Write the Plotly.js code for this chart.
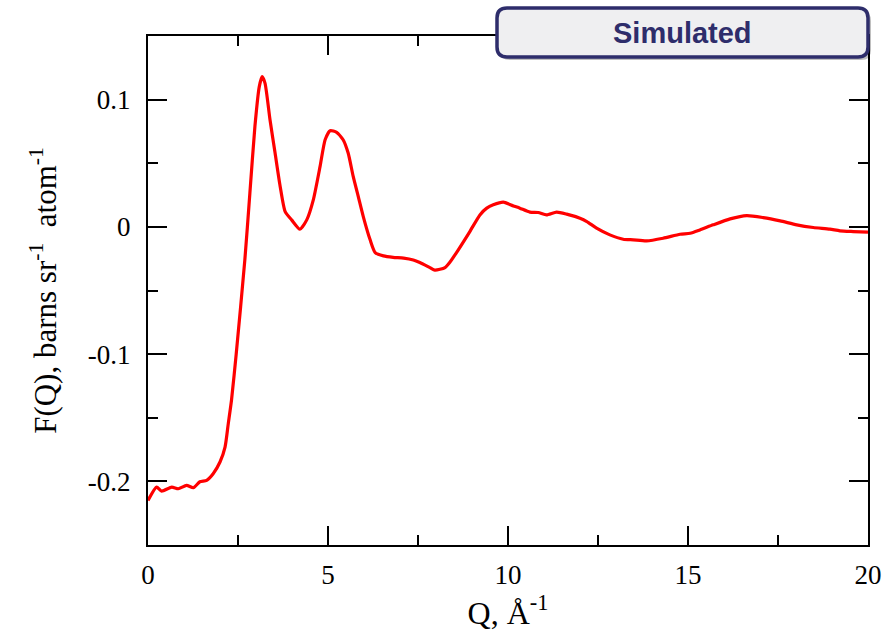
<!DOCTYPE html>
<html>
<head>
<meta charset="utf-8">
<script src="https://cdn.plot.ly/plotly-3.0.1.min.js"></script>
<style>html,body{margin:0;padding:0;background:#fff;}#chart{width:894px;height:643px;}</style>
</head>
<body>
<div id="chart"></div>
<script>
const qValues = [0, 0.24, 0.38, 0.66, 0.84, 1.07, 1.26, 1.44, 1.63, 1.81, 2.0, 2.14, 2.23, 2.32, 2.45, 2.69, 2.83, 2.97, 3.09, 3.17, 3.25, 3.39, 3.53, 3.67, 3.81, 3.99, 4.22, 4.41, 4.59, 4.78, 4.92, 5.06, 5.24, 5.42, 5.56, 5.70, 5.84, 5.98, 6.17, 6.31, 6.54, 6.81, 7.1, 7.37, 7.55, 7.83, 7.97, 8.25, 8.39, 8.62, 8.94, 9.22, 9.41, 9.59, 9.87, 10.15, 10.33, 10.61, 10.84, 11.07, 11.35, 11.63, 12.0, 12.19, 12.46, 12.83, 13.2, 13.48, 13.85, 14.31, 14.78, 15.06, 15.33, 15.7, 16.17, 16.63, 17.09, 17.56, 18.02, 18.48, 18.94, 19.22, 19.59, 20.0];
const fValues = [-0.215, -0.2045, -0.2076, -0.2045, -0.2058, -0.2031, -0.205, -0.2003, -0.1992, -0.194, -0.1848, -0.173, -0.1546, -0.136, -0.10, -0.026, 0.0265, 0.079, 0.110, 0.118, 0.113, 0.084, 0.058, 0.032, 0.012, 0.0055, -0.0018, 0.0055, 0.021, 0.0475, 0.0685, 0.0756, 0.0743, 0.0685, 0.058, 0.0396, 0.0239, 0.0081, -0.0102, -0.0202, -0.0228, -0.0239, -0.0245, -0.026, -0.028, -0.032, -0.034, -0.032, -0.0276, -0.018, -0.0037, 0.0094, 0.0147, 0.0173, 0.0194, 0.0165, 0.0147, 0.0116, 0.0113, 0.0094, 0.0116, 0.010, 0.0068, 0.0042, -0.001, -0.0063, -0.0097, -0.0102, -0.011, -0.0089, -0.0058, -0.005, -0.0024, 0.0016, 0.0063, 0.0089, 0.0073, 0.0047, 0.0016, -0.0005, -0.0018, -0.0031, -0.0037, -0.0042];
const xTickVals = [0, 5, 10, 15, 20];
const xTickText = ['0', '5', '10', '15', '20'];
const yTickVals = [-0.2, -0.1, 0, 0.1];
const yTickText = ['-0.2', '-0.1', '0', '0.1'];
const labelText = 'Simulated';

const W = 720, H = 509;
function px(x) { return (x - 148) / W; }
function py(y) { return (545 - y) / H; }
function roundRect(x0, y0, x1, y1, r) {
  const rx = r / W, ry = r / H;
  const L = px(x0), R = px(x1), T = py(y0), B = py(y1);
  return `M${L + rx},${T} L${R - rx},${T} Q${R},${T} ${R},${T - ry} L${R},${B + ry} Q${R},${B} ${R - rx},${B} L${L + rx},${B} Q${L},${B} ${L},${B + ry} L${L},${T - ry} Q${L},${T} ${L + rx},${T} Z`;
}

const serif = 'Liberation Serif, Times New Roman, serif';

const trace = {
  x: qValues, y: fValues, type: 'scatter', mode: 'lines',
  line: {color: '#ff0000', width: 3.2, shape: 'spline', smoothing: 0.6},
  hoverinfo: 'skip', showlegend: false
};

const axisCommon = {
  showline: true, linecolor: '#000', linewidth: 2, mirror: 'allticks',
  ticks: 'inside', ticklen: 19, tickwidth: 2, tickcolor: '#000',
  showgrid: false, zeroline: false,
  tickfont: {family: serif, size: 27, color: '#000'}
};

const layout = {
  width: 894, height: 643,
  margin: {l: 148, r: 26, t: 36, b: 98},
  paper_bgcolor: '#fff', plot_bgcolor: '#fff',
  xaxis: Object.assign({}, axisCommon, {
    range: [0, 20], tickmode: 'array', tickvals: xTickVals, ticktext: xTickText,
    ticklabelstandoff: 5,
    minor: {dtick: 2.5, ticks: 'inside', ticklen: 10, tickwidth: 2, tickcolor: '#000', showgrid: false},
    title: {text: 'Q, Å<sup>-1</sup>', standoff: 4,
      font: {family: serif, size: 32, color: '#000'}}
  }),
  yaxis: Object.assign({}, axisCommon, {
    range: [-0.25, 0.15], tickmode: 'array', tickvals: yTickVals, ticktext: yTickText,
    ticklabelstandoff: 10,
    minor: {dtick: 0.05, tick0: 0, ticks: 'inside', ticklen: 10, tickwidth: 2, tickcolor: '#000', showgrid: false},
    title: {text: 'F(Q), barns sr<sup>-1</sup>  atom<sup>-1</sup>', standoff: 22,
      font: {family: serif, size: 31, color: '#000'}}
  }),
  shapes: [
    {type: 'path', xref: 'paper', yref: 'paper', path: roundRect(500, 11, 871, 60, 10),
      fillcolor: 'rgba(0,0,0,0.25)', line: {width: 0}, layer: 'above'},
    {type: 'path', xref: 'paper', yref: 'paper', path: roundRect(497, 8, 868, 57, 10),
      fillcolor: '#efeff1', line: {color: '#2e2d6b', width: 3.5}, layer: 'above'}
  ],
  annotations: [
    {xref: 'paper', yref: 'paper', x: px(682), y: py(33), xanchor: 'center', yanchor: 'middle',
      text: '<b>' + labelText + '</b>', showarrow: false,
      font: {family: 'Liberation Sans, Arial, sans-serif', size: 29, color: '#2e2d6b'}}
  ]
};

Plotly.newPlot('chart', [trace], layout, {displayModeBar: false, staticPlot: true});
</script>
</body>
</html>
